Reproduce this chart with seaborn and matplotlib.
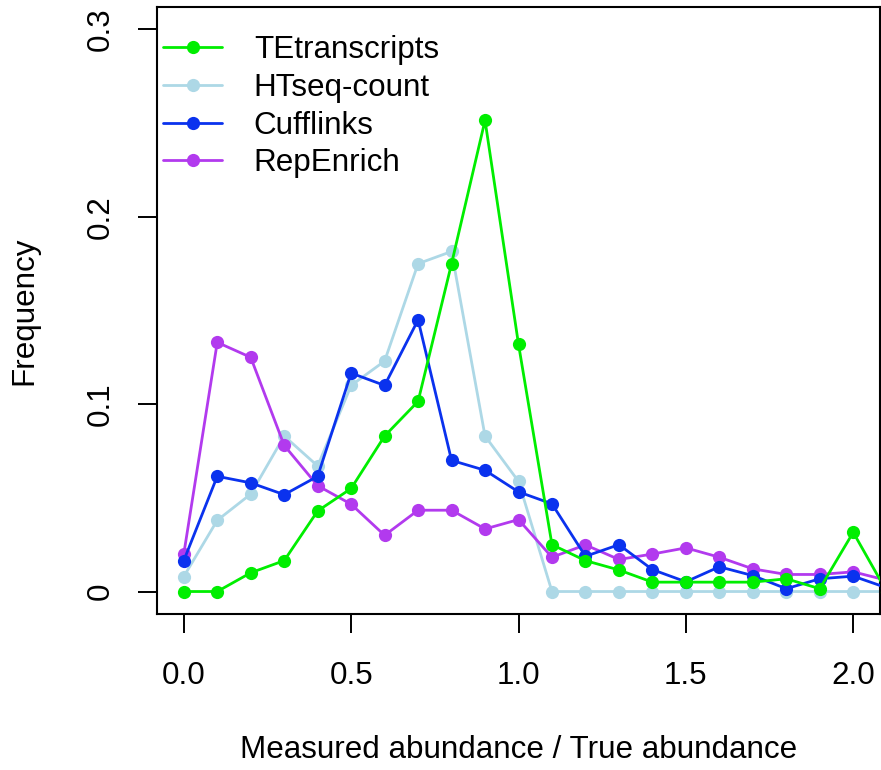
import numpy as np
import pandas as pd
import matplotlib
matplotlib.use("Agg")
import matplotlib.pyplot as plt
import seaborn as sns

# Ratio bins (measured / true), the last bin lies just past the clipped edge
ratio = [0.0, 0.1, 0.2, 0.3, 0.4, 0.5, 0.6, 0.7, 0.8, 0.9, 1.0,
         1.1, 1.2, 1.3, 1.4, 1.5, 1.6, 1.7, 1.8, 1.9, 2.0, 2.1]

tetranscripts = [0.000, 0.000, 0.010, 0.0165, 0.043, 0.055, 0.083, 0.1015, 0.175, 0.2515, 0.132,
                 0.025, 0.0165, 0.0115, 0.005, 0.005, 0.005, 0.005, 0.0068, 0.0015, 0.0316, 0.000]
htseq = [0.008, 0.038, 0.052, 0.083, 0.067, 0.110, 0.123, 0.175, 0.1815, 0.083, 0.0588,
         0.000, 0.000, 0.000, 0.000, 0.000, 0.000, 0.000, 0.000, 0.000, 0.000, 0.000]
cufflinks = [0.0165, 0.0615, 0.058, 0.0517, 0.0615, 0.1166, 0.110, 0.145, 0.070, 0.0647, 0.0532,
             0.0468, 0.0188, 0.025, 0.0117, 0.0052, 0.0132, 0.0085, 0.0015, 0.0068, 0.0082, 0.002]
repenrich = [0.020, 0.133, 0.125, 0.078, 0.0565, 0.0466, 0.030, 0.0434, 0.0434, 0.0334, 0.0384,
             0.0183, 0.0249, 0.0171, 0.020, 0.0233, 0.0183, 0.0121, 0.0091, 0.0091, 0.0105, 0.006]

methods = ["TEtranscripts", "HTseq-count", "Cufflinks", "RepEnrich"]
colors = ["#00EE00", "#ADD8E6", "#0A32EE", "#B23AEE"]

df = pd.concat([
    pd.DataFrame({"ratio": ratio, "freq": vals, "method": name})
    for name, vals in zip(methods, [tetranscripts, htseq, cufflinks, repenrich])
])

sns.set_style("ticks")
plt.rcParams["font.family"] = ["Liberation Sans", "DejaVu Sans"]
plt.rcParams["text.color"] = "black"
plt.rcParams["axes.labelcolor"] = "black"
plt.rcParams["xtick.color"] = "black"
plt.rcParams["ytick.color"] = "black"
fs = 22.6

fig = plt.figure(figsize=(8.81, 7.70), dpi=100)
ax = fig.add_axes([157 / 881, 156 / 770, 723 / 881, 607 / 770])

sns.lineplot(data=df, x="ratio", y="freq", hue="method", hue_order=methods,
             palette=colors, marker="o", markersize=9.5, markeredgewidth=0,
             linewidth=2.0, ax=ax)

# drawing order: HTseq at the back, TEtranscripts on top
for line, z in zip(ax.lines[:4], [5, 2, 4, 3]):
    line.set_zorder(z)

ax.set_xlim(-0.08, 2.08)
ax.set_ylim(-0.012, 0.312)
ax.set_xticks([0.0, 0.5, 1.0, 1.5, 2.0])
ax.set_xticklabels(["0.0", "0.5", "1.0", "1.5", "2.0"], fontsize=fs)
ax.set_yticks([0.0, 0.1, 0.2, 0.3])
ax.set_yticklabels(["0", "0.1", "0.2", "0.3"], fontsize=fs, rotation=90, va="center")
ax.tick_params(axis="both", length=13.5, width=1.4, color="black")
ax.tick_params(axis="x", pad=20)
ax.tick_params(axis="y", pad=16.5)
for sp in ax.spines.values():
    sp.set_visible(True)
    sp.set_linewidth(1.5)
    sp.set_color("black")

ax.set_xlabel("Measured abundance / True abundance", fontsize=fs, labelpad=32)
ax.set_ylabel("Frequency", fontsize=fs, labelpad=33)

leg = ax.legend(loc="upper left", bbox_to_anchor=(0.008, 0.954), frameon=False,
                fontsize=fs, handlelength=1.9, handletextpad=1.0,
                labelspacing=0.25, borderpad=0, borderaxespad=0)
for h in leg.legend_handles:
    h.set_linewidth(2.0)

fig.savefig("out.png", dpi=100)
